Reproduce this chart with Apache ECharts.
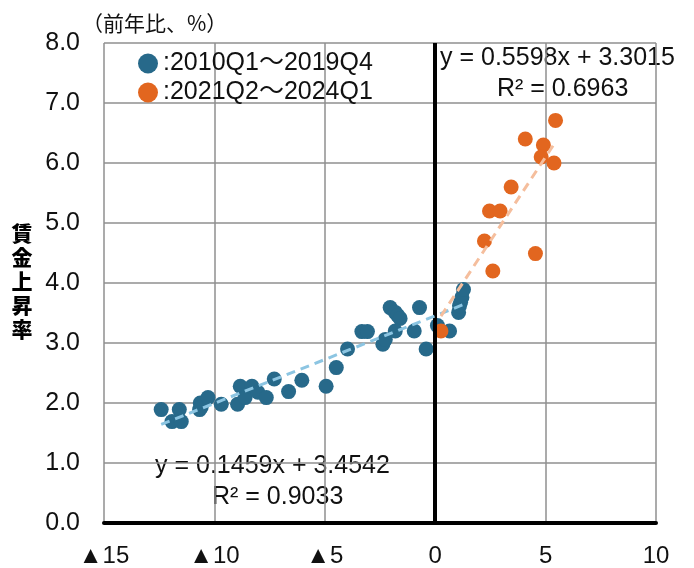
<!DOCTYPE html>
<html>
<head>
<meta charset="utf-8">
<script src="https://cdn.jsdelivr.net/npm/echarts@6/dist/echarts.min.js"></script>
<style>
html,body{margin:0;padding:0;background:#fff;}
#chart{width:694px;height:568px;}
</style>
</head>
<body>
<div id="chart"></div>
<script>
// Data
const seriesNames = [':2010Q1～2019Q4', ':2021Q2～2024Q1'];
const blueX = [-12.41,-11.59,-11.92,-11.50,-10.67,-10.64,-10.60,-10.29,-9.69,-8.95,-8.83,-8.61,-8.30,-8.03,-7.65,-7.29,-6.64,-6.04,-4.94,-4.48,-3.97,-3.32,-3.07,-2.37,-2.26,-2.04,-1.81,-1.70,-1.59,-1.81,-0.95,-0.71,-0.41,0.10,0.65,1.06,1.10,1.15,1.21,1.28];
const blueY = [1.89,1.89,1.69,1.69,1.89,2.00,1.93,2.09,1.98,1.98,2.28,2.09,2.28,2.18,2.09,2.40,2.19,2.38,2.28,2.59,2.90,3.19,3.19,2.98,3.06,3.59,3.51,3.46,3.41,3.20,3.20,3.59,2.90,3.29,3.20,3.51,3.62,3.68,3.76,3.89];
const orangeX = [0.26,2.61,2.23,2.46,2.94,3.44,4.54,4.08,4.90,4.80,5.38,5.45];
const orangeY = [3.20,4.20,4.70,5.20,5.20,5.60,4.49,6.40,6.30,6.10,6.00,6.71];
// Trend line coefficients [slope, intercept] and labels shown on the chart
const blueTrend = [0.1459, 3.4542];
const orangeTrend = [0.5598, 3.3015];
const blueTrendText = ['y = 0.1459x + 3.4542', 'R² = 0.9033'];
const orangeTrendText = ['y = 0.5598x + 3.3015', 'R² = 0.6963'];
const xTicks = {min: -15, max: 10, step: 5};
const yTicks = {min: 0, max: 8, step: 1};
const yTitle = '賃金上昇率';
const unitText = '（前年比、%）';

const FONT = '"Liberation Sans", Arial, "Noto Sans CJK JP", sans-serif';
const BLUE = '#27698a', ORANGE = '#e2661f';

function pairs(xs, ys){ return xs.map((x,i)=>[x, ys[i]]); }
function trendLine(xs, coef){
  const lo = Math.min(...xs), hi = Math.max(...xs);
  return [[lo, coef[0]*lo+coef[1]], [hi, coef[0]*hi+coef[1]]];
}

const chart = echarts.init(document.getElementById('chart'), null, {renderer:'canvas'});
const gridLine = {show:true, lineStyle:{color:'#8f8f8f', width:1.5}};
chart.setOption({
  animation:false,
  backgroundColor:'#fff',
  textStyle:{fontFamily:FONT},
  grid:{left:104, right:38, top:43, bottom:44, containLabel:false},
  legend:{
    orient:'vertical', left:133, top:46,
    itemWidth:20, itemHeight:20, itemGap:4,
    icon:'circle',
    data:seriesNames,
    textStyle:{fontSize:25, color:'#111', fontFamily:FONT, lineHeight:25, padding:[0,0,0,0]}
  },
  xAxis:{
    type:'value', min:xTicks.min, max:xTicks.max, interval:xTicks.step,
    axisLine:{show:true, onZero:false, lineStyle:{color:'#000', width:4}},
    axisTick:{show:false},
    splitLine:gridLine,
    axisLabel:{
      margin:21, fontSize:24, color:'#111', fontFamily:FONT,
      formatter:v => v < 0 ? '▲' + (-v) : String(v)
    }
  },
  yAxis:{
    type:'value', min:yTicks.min, max:yTicks.max, interval:yTicks.step,
    axisLine:{show:false},
    axisTick:{show:false},
    splitLine:gridLine,
    axisLabel:{margin:24, fontSize:25, color:'#111', fontFamily:FONT, formatter:v => v.toFixed(1)}
  },
  series:[
    {
      name:seriesNames[0], type:'scatter', symbolSize:15, z:3,
      itemStyle:{color:BLUE, opacity:1},
      data:pairs(blueX, blueY),
      markLine:{
        silent:true, symbol:['none','none'], label:{show:false},
        lineStyle:{color:'#000', width:4, type:'solid'},
        emphasis:{disabled:true},
        data:[{xAxis:0}]
      }
    },
    {
      name:seriesNames[1], type:'scatter', symbolSize:15, z:4,
      itemStyle:{color:ORANGE, opacity:1},
      data:pairs(orangeX, orangeY)
    },
    {
      name:'blueTrend', type:'line', z:5, symbol:'none', silent:true,
      lineStyle:{color:'#8cc5e2', width:3, type:[9,6]},
      data:trendLine(blueX, blueTrend)
    },
    {
      name:'orangeTrend', type:'line', z:5, symbol:'none', silent:true,
      lineStyle:{color:'#f5be9d', width:3, type:[9,6]},
      data:trendLine(orangeX, orangeTrend)
    }
  ],
  graphic:[
    {type:'text', x:82, y:23, style:{text:unitText, fill:'#111', verticalAlign:'middle', font:'21px "Noto Sans CJK JP", sans-serif'}},
    {type:'text', x:22, y:281, style:{text:yTitle.split('').join('\n'), lineHeight:24, fill:'#000', align:'center', verticalAlign:'middle', font:'900 21px "Noto Sans CJK JP", sans-serif'}},
    {type:'text', x:155, y:466, style:{text:blueTrendText[0], fill:'#111', verticalAlign:'middle', font:'25px "Liberation Sans", Arial, sans-serif'}},
    {type:'text', x:212, y:497, style:{text:blueTrendText[1], fill:'#111', verticalAlign:'middle', font:'25px "Liberation Sans", Arial, sans-serif'}},
    {type:'text', x:440, y:58, style:{text:orangeTrendText[0], fill:'#111', verticalAlign:'middle', font:'25px "Liberation Sans", Arial, sans-serif'}},
    {type:'text', x:497, y:89, style:{text:orangeTrendText[1], fill:'#111', verticalAlign:'middle', font:'25px "Liberation Sans", Arial, sans-serif'}}
  ]
});
</script>
</body>
</html>
